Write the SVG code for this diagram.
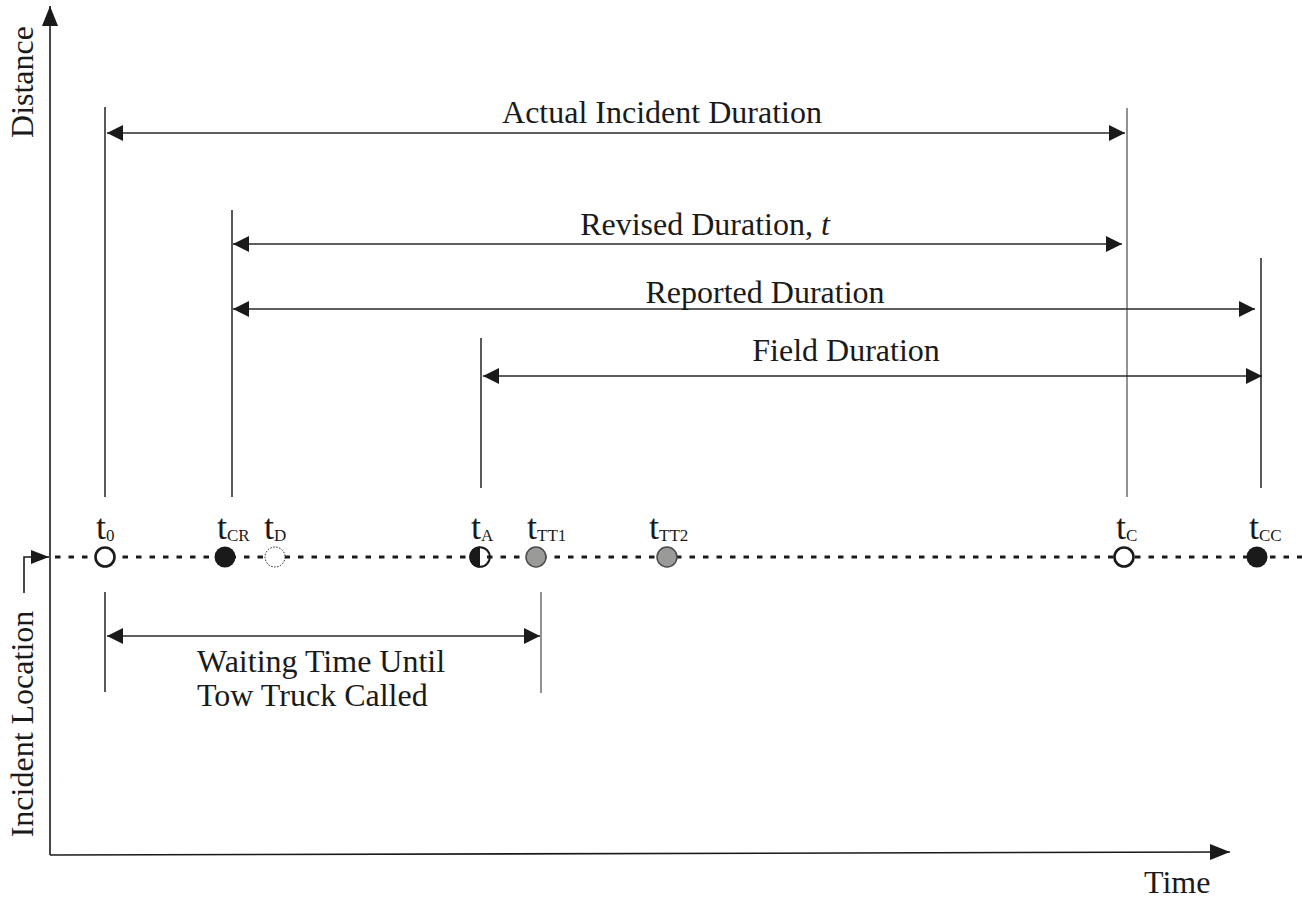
<svg xmlns="http://www.w3.org/2000/svg" width="1302" height="900" viewBox="0 0 1302 900">
  <defs>
    <style>
      .lbl { font-family: "Liberation Serif", "Times New Roman", serif; font-size: 32px; fill: #1a1a1a; }
      .t { font-family: "Liberation Serif", "Times New Roman", serif; font-size: 36px; fill: #1a1a1a; }
      .sub { font-family: "Liberation Serif", "Times New Roman", serif; font-size: 17px; fill: #1a1a1a; }
      .axis { stroke: #1a1a1a; stroke-width: 1.6; fill: none; }
      .tick { stroke: #222; stroke-width: 1.5; fill: none; }
      .tick-g { stroke: #6e6e6e; stroke-width: 1.5; fill: none; }
      .dim { stroke: #2a2a2a; stroke-width: 1.5; fill: none; marker-start: url(#ah); marker-end: url(#ah); }
      .base { stroke: #1a1a1a; stroke-width: 2.8; stroke-dasharray: 5.5 8; fill: none; }
    </style>
    <marker id="ah" viewBox="0 0 16 16" refX="16" refY="8" markerWidth="16" markerHeight="16" markerUnits="userSpaceOnUse" orient="auto-start-reverse">
      <path d="M0,0 L16,8 L0,16 Z" fill="#1a1a1a"/>
    </marker>
    <marker id="axh" viewBox="0 0 20 16" refX="20" refY="8" markerWidth="20" markerHeight="16" markerUnits="userSpaceOnUse" orient="auto">
      <path d="M0,0 L20,8 L0,16 Z" fill="#1a1a1a"/>
    </marker>
    <marker id="sh" viewBox="0 0 18 14" refX="18" refY="7" markerWidth="18" markerHeight="14" markerUnits="userSpaceOnUse" orient="auto">
      <path d="M0,0 L18,7 L0,14 Z" fill="#1a1a1a"/>
    </marker>
  </defs>

  <!-- axes -->
  <g id="axes">
    <path class="axis" d="M50,855 L50,6" marker-end="url(#axh)"/>
    <path class="axis" d="M50,855 L1230,852" marker-end="url(#axh)"/>
    <text class="lbl" transform="translate(33,82) rotate(-90)" text-anchor="middle">Distance</text>
    <text class="lbl" transform="translate(33,724) rotate(-90)" text-anchor="middle">Incident Location</text>
    <text class="lbl" x="1144" y="893">Time</text>
  </g>

  <!-- incident location pointer and dotted timeline -->
  <g id="timeline">
    <path class="axis" d="M24,593 L24,557 L49,557" marker-end="url(#sh)"/>
    <line class="base" x1="55" y1="557" x2="1302" y2="557"/>
  </g>

  <!-- extension lines -->
  <g id="extensions">
    <line class="tick" x1="105" y1="107" x2="105" y2="497"/>
    <line class="tick" x1="232" y1="210" x2="232" y2="497"/>
    <line class="tick" x1="481" y1="338" x2="481" y2="488"/>
    <line class="tick-g" x1="1127" y1="108" x2="1127" y2="497"/>
    <line class="tick" x1="1261" y1="258" x2="1261" y2="488"/>
    <line class="tick" x1="105" y1="592" x2="105" y2="692"/>
    <line class="tick-g" x1="541" y1="592" x2="541" y2="693"/>
  </g>

  <!-- duration connectors -->
  <g id="connectors">
    <line class="dim" x1="107" y1="133" x2="1125" y2="133"/>
    <line class="dim" x1="233" y1="244" x2="1122" y2="244"/>
    <line class="dim" x1="233" y1="309" x2="1255" y2="309"/>
    <line class="dim" x1="483" y1="376" x2="1262" y2="376"/>
    <line class="dim" x1="107" y1="636" x2="540" y2="636"/>
  </g>

  <g id="actual-duration"><text class="lbl" x="662" y="123" text-anchor="middle">Actual Incident Duration</text></g>
  <g id="revised-duration"><text class="lbl" x="705" y="235" text-anchor="middle">Revised Duration, <tspan font-style="italic">t</tspan></text></g>
  <g id="reported-duration"><text class="lbl" x="765" y="303" text-anchor="middle">Reported Duration</text></g>
  <g id="field-duration"><text class="lbl" x="846" y="361" text-anchor="middle">Field Duration</text></g>
  <g id="waiting-time">
    <text class="lbl" x="197" y="672">Waiting Time Until</text>
    <text class="lbl" x="197" y="706">Tow Truck Called</text>
  </g>

  <!-- events on the timeline -->
  <g id="t0">
    <circle cx="105" cy="557" r="9.5" fill="#fff" stroke="#1a1a1a" stroke-width="2.6"/>
    <text class="t" x="96" y="539">t</text><text class="sub" x="106" y="541">0</text>
  </g>
  <g id="tCR">
    <circle cx="225" cy="557" r="10.5" fill="#1a1a1a"/>
    <text class="t" x="217" y="539">t</text><text class="sub" x="227" y="541">CR</text>
  </g>
  <g id="tD">
    <circle cx="275" cy="557" r="10" fill="#fff" stroke="#1a1a1a" stroke-width="1" stroke-dasharray="1.5 1.5"/>
    <text class="t" x="264" y="539">t</text><text class="sub" x="274" y="541">D</text>
  </g>
  <g id="tA">
    <path d="M480,546.5 A10.5,10.5 0 0 0 480,567.5 Z" fill="#1a1a1a"/>
    <circle cx="480" cy="557" r="9.8" fill="none" stroke="#1a1a1a" stroke-width="2"/>
    <text class="t" x="471" y="539">t</text><text class="sub" x="481" y="541">A</text>
  </g>
  <g id="tTT1">
    <circle cx="536" cy="557" r="10" fill="#9a9a98" stroke="#4a4a4a" stroke-width="1.5"/>
    <text class="t" x="527" y="539">t</text><text class="sub" x="537" y="541">TT1</text>
  </g>
  <g id="tTT2">
    <circle cx="667" cy="557" r="10" fill="#9a9a98" stroke="#4a4a4a" stroke-width="1.5"/>
    <text class="t" x="649" y="539">t</text><text class="sub" x="659" y="541">TT2</text>
  </g>
  <g id="tC">
    <circle cx="1124" cy="557" r="9.5" fill="#fff" stroke="#1a1a1a" stroke-width="2.6"/>
    <text class="t" x="1116" y="539">t</text><text class="sub" x="1126" y="541">C</text>
  </g>
  <g id="tCC">
    <circle cx="1257" cy="557" r="10.5" fill="#1a1a1a"/>
    <text class="t" x="1249" y="539">t</text><text class="sub" x="1259" y="541">CC</text>
  </g>
</svg>
